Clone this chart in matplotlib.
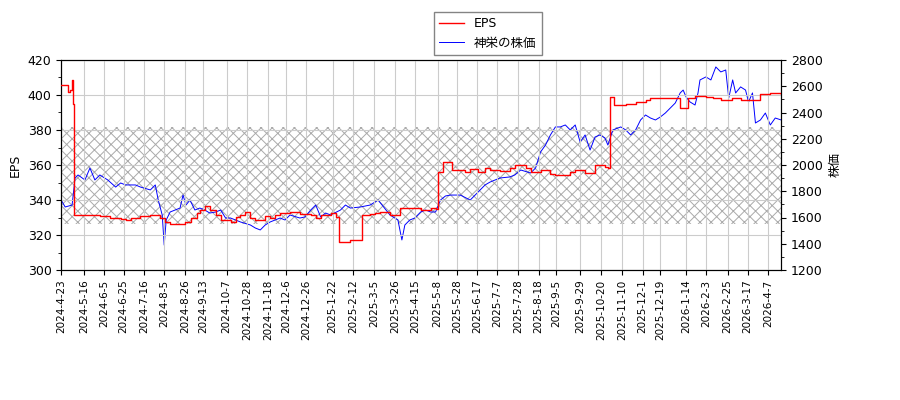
import matplotlib
matplotlib.use("Agg")
import matplotlib.pyplot as plt
from matplotlib.ticker import MultipleLocator
import pandas as pd

plt.rcParams['font.family'] = ['DejaVu Sans', 'Noto Sans CJK JP']
plt.rcParams['hatch.linewidth'] = 0.7

base_date = "2024-04-23"
price_days = [0,4,11,14,17,24,29,34,39,47,55,60,65,75,80,90,95,98,102,104,106,110,115,120,123,126,130,135,140,145,150,156,161,166,171,181,191,196,201,206,211,216,221,226,231,241,246,252,257,262,267,272,282,287,292,302,312,320,324,332,340,344,347,352,357,363,368,373,378,383,388,393,403,413,418,423,428,433,443,453,458,464,474,479,484,489,494,499,504,509,514,519,524,529,534,539,544,549,552,557,565,570,575,580,585,590,595,600,605,610,615,620,625,628,631,635,640,643,645,651,656,661,666,671,674,678,681,686,691,694,698,701,706,711,716,721,727]
price = [1733,1680,1695,1901,1924,1886,1977,1886,1924,1886,1832,1863,1848,1848,1832,1810,1848,1733,1619,1390,1581,1642,1657,1672,1771,1695,1733,1657,1672,1657,1634,1642,1657,1596,1596,1566,1543,1520,1505,1543,1566,1581,1596,1581,1619,1596,1604,1657,1695,1604,1634,1619,1657,1695,1672,1680,1695,1733,1695,1619,1581,1429,1543,1581,1596,1642,1657,1642,1642,1733,1764,1771,1771,1733,1771,1810,1848,1870,1901,1909,1924,1962,1939,1977,2099,2152,2229,2290,2290,2305,2267,2305,2175,2229,2114,2213,2229,2206,2152,2267,2290,2267,2229,2267,2343,2381,2358,2343,2366,2396,2434,2472,2549,2571,2518,2480,2457,2549,2648,2671,2648,2747,2709,2724,2510,2648,2549,2595,2571,2480,2549,2320,2343,2396,2305,2358,2343]

eps_days = [0,4,7,9,11,12,13,29,39,49,60,65,70,80,90,100,105,110,125,131,137,140,145,150,156,161,171,176,181,186,191,196,206,211,216,221,231,241,252,257,262,272,277,280,287,292,304,312,317,322,332,342,352,363,373,378,380,386,395,408,413,421,428,433,443,453,458,469,474,484,494,499,514,519,529,539,549,552,554,558,570,580,590,595,625,633,640,651,658,666,677,686,702,706,716,727]
eps = [405.7,405.7,401.7,402.9,408.6,395.0,331.4,331.4,330.9,329.7,329.1,328.6,329.7,330.9,331.4,329.7,327.4,326.3,327.4,329.7,332.6,334.3,336.6,334.3,331.4,328.6,327.4,330.3,331.4,333.1,329.7,328.6,330.9,329.7,331.4,332.6,333.1,332.0,331.4,329.7,331.4,332.6,330.3,316.0,316.0,317.1,331.4,332.0,332.6,333.1,331.4,335.4,335.4,334.3,335.4,335.0,356.0,361.7,357.1,356.0,357.8,356.0,358.3,357.1,356.6,358.3,360.0,358.3,356.0,357.1,355.0,354.3,356.0,357.1,355.4,360.0,358.9,358.3,398.9,394.3,394.9,396.0,397.1,398.3,392.6,398.3,399.4,398.9,398.3,397.1,398.3,397.1,397.1,400.6,401.1,400.6]

tick_labels = ["2024-4-23","2024-5-16","2024-6-5","2024-6-25","2024-7-16","2024-8-5","2024-8-26","2024-9-13","2024-10-7","2024-10-28","2024-11-18","2024-12-6","2024-12-26","2025-1-22","2025-2-12","2025-3-5","2025-3-26","2025-4-15","2025-5-8","2025-5-28","2025-6-17","2025-7-7","2025-7-28","2025-8-18","2025-9-5","2025-9-29","2025-10-20","2025-11-10","2025-12-1","2025-12-19","2026-1-14","2026-2-3","2026-2-25","2026-3-17","2026-4-7"]
band_low, band_high = 1550, 2290

b = pd.Timestamp(base_date)
pdates = [b + pd.Timedelta(days=d) for d in price_days]
edates = [b + pd.Timedelta(days=d) for d in eps_days]

fig = plt.figure(figsize=(9, 4), dpi=100)
ax1 = fig.add_axes([0.068, 0.325, 0.8, 0.525])
ax2 = ax1.twinx()

ax2.axhspan(band_low, band_high, facecolor='none', edgecolor='#aaaaaa', hatch='xxx', linewidth=0, zorder=0)
l2, = ax2.plot(pdates, price, color='blue', lw=0.7, label='神栄の株価', zorder=2)
l1, = ax1.plot(edates, eps, color='red', lw=1.0, drawstyle='steps-post', label='EPS', zorder=3)
ax1.set_zorder(ax2.get_zorder() + 1)
ax1.patch.set_visible(False)

ax1.set_ylim(300, 420)
ax2.set_ylim(1200, 2800)
ax1.yaxis.set_minor_locator(MultipleLocator(10))
ax2.yaxis.set_minor_locator(MultipleLocator(100))
ax1.set_xlim(b, b + pd.Timedelta(days=727))
ticks = [pd.Timestamp(t) for t in tick_labels]
ax1.set_xticks(ticks)
ax1.set_xticklabels(tick_labels, rotation=90, fontsize=7.5)
ax1.grid(True, color='#cccccc', lw=0.8)
ax1.tick_params(axis='y', labelsize=9)
ax2.tick_params(axis='y', labelsize=9)
ax1.set_ylabel('EPS', fontsize=9)
ax2.set_ylabel('株価', fontsize=9)
fig.legend(handles=[l1, l2], loc='upper center', bbox_to_anchor=(0.542, 0.985), fontsize=9, fancybox=False, edgecolor='#666666')
fig.savefig('out.png', dpi=100)
